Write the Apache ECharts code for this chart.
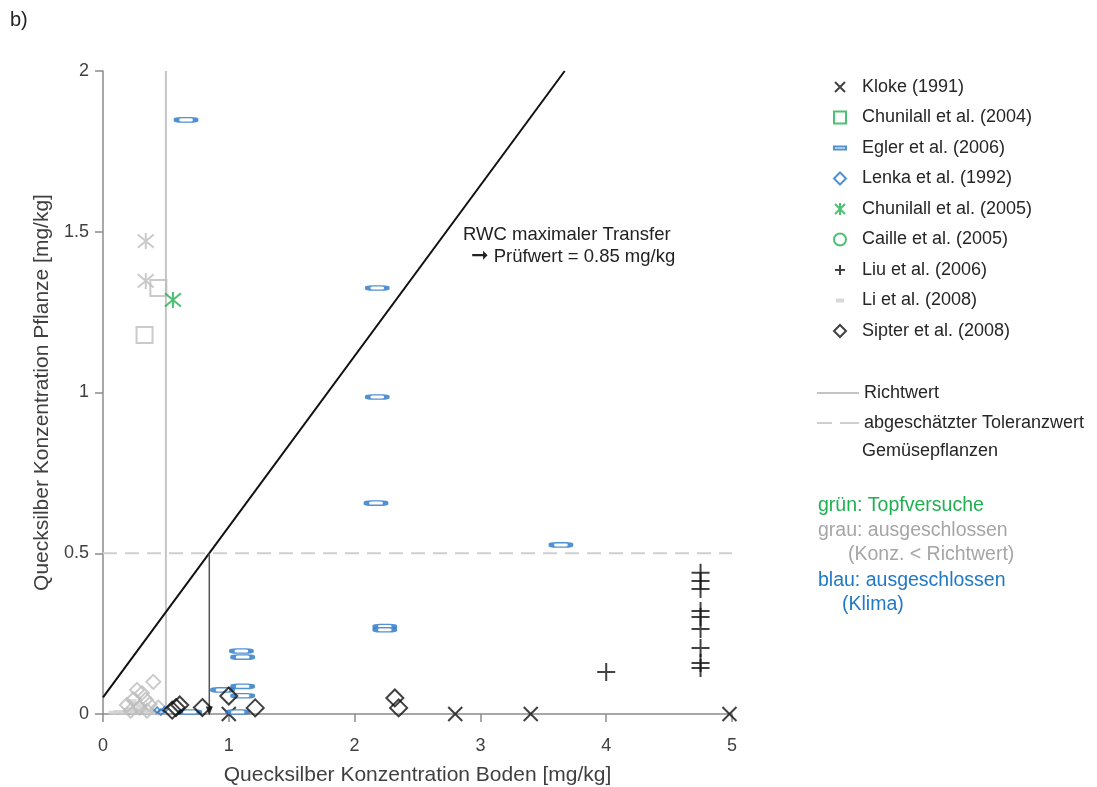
<!DOCTYPE html>
<html>
<head>
<meta charset="utf-8">
<script src="https://cdn.jsdelivr.net/npm/echarts@6/dist/echarts.min.js"></script>
<style>
html,body{margin:0;padding:0;background:#fff;}
#chart{width:1097px;height:787px;}
</style>
</head>
<body>
<div id="chart"></div>
<script>
// ---- data (x = Boden mg/kg, y = Pflanze mg/kg) ----
const kloke = [[1.0,0.0],[2.8,0.0],[3.4,0.0],[4.98,0.0]];
const chunilall2004 = [];
const chunilall2004Grey = [[0.44,1.325],[0.33,1.179]];
const egler = [[0.66,1.848],[2.18,1.325],[2.18,0.986],[2.17,0.656],[3.64,0.526],[2.24,0.272],[2.24,0.262],
  [1.10,0.196],[1.11,0.177],[0.95,0.075],[1.11,0.086],[1.11,0.057],[1.07,0.006],[0.69,0.006]];
const lenka = [[0.43,0.012],[0.46,0.006],[0.49,0.014]];
const lenkaGrey = [[0.40,0.10],[0.27,0.075],[0.31,0.065],[0.24,0.045],[0.34,0.045],[0.19,0.028],
  [0.37,0.03],[0.44,0.02],[0.29,0.02],[0.35,0.01],[0.22,0.01]];
const chunilall2005 = [[0.556,1.288]];
const chunilall2005Grey = [[0.34,1.471],[0.34,1.347]];
const caille = [];
const liu = [[4.75,0.439],[4.75,0.414],[4.75,0.389],[4.75,0.320],[4.75,0.302],[4.75,0.264],
  [4.75,0.205],[4.75,0.159],[4.75,0.143],[4.0,0.131]];
const li = [[0.08,0.004],[0.12,0.006],[0.16,0.004],[0.2,0.008],[0.22,0.015],[0.25,0.004],[0.28,0.01],
  [0.3,0.02],[0.32,0.005],[0.35,0.012],[0.38,0.004],[0.42,0.008],[0.27,0.03],[0.23,0.04]];
const sipter = [[0.55,0.012],[0.58,0.02],[0.61,0.028],[0.79,0.02],[1.0,0.056],[1.21,0.019],[2.32,0.05],[2.35,0.019]];
const richtwert = [[0.5,0],[0.5,2]];
const toleranzwert = [[0,0.5],[5,0.5]];
const rwcLine = [[0,0.052],[3.67,2]];
const pruefwertLine = [[0.845,0.5],[0.845,0]];
const legendNames = ['Kloke (1991)','Chunilall et al. (2004)','Egler et al. (2006)','Lenka et al. (1992)',
  'Chunilall et al. (2005)','Caille et al. (2005)','Liu et al. (2006)','Li et al. (2008)','Sipter et al. (2008)'];
const lineLegendNames = ['Richtwert','abgeschätzter Toleranzwert'];

const FONT = 'Liberation Sans, Arial, sans-serif';
const GREEN = '#1fb050', BLUE = '#2676c6', GREY = '#bdbdbd';
const P = {
  x: 'path://M0,0L10,10M10,0L0,10',
  ast: 'path://M0,0L10,10M10,0L0,10M5,-1L5,11',
  plus: 'path://M5,0L5,10M0,5L10,5',
  dia: 'path://M5,0L10,5L5,10L0,5Z'
};
// legend icons in a 34x14 box, content centred at x=17
const LI = {
  x: 'path://M0,0M34,14M12,2L22,12M22,2L12,12',
  sq: 'path://M0,0M34,14M11,1H23V13H11Z',
  egl: 'path://M0,0M34,14M11,5.5H23V8.5H11Z',
  dia: 'path://M0,0M34,14M17,1L23,7L17,13L11,7Z',
  ast: 'path://M0,0M34,14M12,2L22,12M22,2L12,12M17,1L17,13',
  circ: 'path://M0,0M34,14M23,7A6,6,0,1,1,11,7A6,6,0,1,1,23,7Z',
  plus: 'path://M0,0M34,14M17,2L17,12M12,7L22,7',
  li: 'path://M0,0M34,14M13,5H21V9H13Z',
  solid: 'path://M0,0M42,14M0,6H42V8H0Z',
  dashed: 'path://M0,0M42,14M0,6H15V8H0ZM23,6H42V8H23Z'
};
const T = 'rgba(0,0,0,0)';

const chart = echarts.init(document.getElementById('chart'), null, {renderer:'canvas'});
chart.setOption({
  animation:false,
  backgroundColor:'#fff',
  grid:{left:103,right:365,top:71,bottom:73,containLabel:false,outerBoundsMode:'none'},
  xAxis:{type:'value',min:0,max:5,interval:1,
    name:'Quecksilber Konzentration Boden [mg/kg]',nameLocation:'middle',nameGap:51,nameMoveOverlap:false,
    nameTextStyle:{fontFamily:FONT,fontSize:21,color:'#404040'},
    axisLine:{lineStyle:{color:'#8c8c8c',width:1.5}},
    axisTick:{show:true,length:8,lineStyle:{color:'#8c8c8c',width:1.5}},
    axisLabel:{fontFamily:FONT,fontSize:18,color:'#404040',margin:23},
    splitLine:{show:false}},
  yAxis:{type:'value',min:0,max:2,interval:0.5,
    name:'Quecksilber Konzentration Pflanze [mg/kg]',nameLocation:'middle',nameGap:50,nameMoveOverlap:false,
    nameTextStyle:{fontFamily:FONT,fontSize:21,color:'#404040'},
    axisLine:{show:true,lineStyle:{color:'#8c8c8c',width:1.5}},
    axisTick:{show:true,length:8,lineStyle:{color:'#8c8c8c',width:1.5}},
    axisLabel:{fontFamily:FONT,fontSize:18,color:'#404040',margin:14},
    splitLine:{show:false}},
  legend:[{
    orient:'vertical',left:817,top:73,itemWidth:34,itemHeight:14,itemGap:12.5,
    textStyle:{fontFamily:FONT,fontSize:18,color:'#262626'},
    data:[
      {name:legendNames[0],icon:LI.x},
      {name:legendNames[1],icon:LI.sq},
      {name:legendNames[2],icon:LI.egl},
      {name:legendNames[3],icon:LI.dia},
      {name:legendNames[4],icon:LI.ast},
      {name:legendNames[5],icon:LI.circ},
      {name:legendNames[6],icon:LI.plus},
      {name:legendNames[7],icon:LI.li},
      {name:legendNames[8],icon:LI.dia}
    ]
  },{
    orient:'vertical',left:812,top:379,itemWidth:42,itemHeight:14,itemGap:12,
    textStyle:{fontFamily:FONT,fontSize:18,color:'#262626'},
    data:[{name:lineLegendNames[0],icon:LI.solid},{name:lineLegendNames[1],icon:LI.dashed}]
  }],
  series:[
    {name:lineLegendNames[0],type:'line',data:richtwert,symbol:'none',z:1,
      lineStyle:{color:'#c4c4c4',width:2},itemStyle:{color:'#c4c4c4'}},
    {name:lineLegendNames[1],type:'line',data:toleranzwert,symbol:'none',z:1,
      lineStyle:{color:'#cfcfcf',width:2,type:[14,8]},itemStyle:{color:'#cfcfcf'}},
    {name:'RWC',type:'line',data:rwcLine,symbol:'none',z:2,lineStyle:{color:'#111',width:2}},
    {name:'Prüfwert',type:'line',z:2,lineStyle:{color:'#555',width:1.5},
      data:[{value:pruefwertLine[0],symbol:'none'},
            {value:pruefwertLine[1],symbol:'triangle',symbolRotate:180,symbolSize:[7,9],symbolOffset:[0,-3],itemStyle:{color:'#333'}}]},
    {name:'Li grau',type:'scatter',data:li,symbol:'rect',symbolSize:[9,4],itemStyle:{color:'#d0d0d0'},z:3},
    {name:legendNames[7],type:'scatter',data:[],symbol:'rect',symbolSize:[9,4],itemStyle:{color:'#d0d0d0'}},
    {name:'Lenka grau',type:'scatter',data:lenkaGrey,symbol:P.dia,symbolSize:14,z:3,
      itemStyle:{color:T,borderColor:GREY,borderWidth:2}},
    {name:'Chunilall 2004 grau',type:'scatter',data:chunilall2004Grey,symbol:'rect',symbolSize:16,z:3,
      itemStyle:{color:T,borderColor:GREY,borderWidth:2}},
    {name:'Chunilall 2005 grau',type:'scatter',data:chunilall2005Grey,symbol:P.ast,symbolSize:16,z:3,
      itemStyle:{color:T,borderColor:GREY,borderWidth:2}},
    {name:legendNames[0],type:'scatter',data:kloke,symbol:P.x,symbolSize:14,z:4,
      itemStyle:{color:T,borderColor:'#111',borderWidth:2}},
    {name:legendNames[1],type:'scatter',data:chunilall2004,symbol:'rect',symbolSize:14,z:4,
      itemStyle:{color:T,borderColor:GREEN,borderWidth:2}},
    {name:legendNames[2],type:'scatter',data:egler,symbol:'roundRect',symbolSize:[19,4.3],z:4,
      itemStyle:{color:'#fff',borderColor:BLUE,borderWidth:2.7}},
    {name:legendNames[3],type:'scatter',data:lenka,symbol:P.dia,symbolSize:6,z:4,
      itemStyle:{color:T,borderColor:BLUE,borderWidth:1.5}},
    {name:legendNames[4],type:'scatter',data:chunilall2005,symbol:P.ast,symbolSize:16,z:4,
      itemStyle:{color:T,borderColor:GREEN,borderWidth:2}},
    {name:legendNames[5],type:'scatter',data:caille,symbol:'emptyCircle',symbolSize:12,z:4,
      itemStyle:{color:T,borderColor:GREEN,borderWidth:2}},
    {name:legendNames[6],type:'scatter',data:liu,symbol:P.plus,symbolSize:18,z:4,
      itemStyle:{color:T,borderColor:'#111',borderWidth:2}},
    {name:legendNames[8],type:'scatter',data:sipter,symbol:P.dia,symbolSize:17,z:5,
      itemStyle:{color:T,borderColor:'#111',borderWidth:2}}
  ],
  graphic:[
    {type:'text',left:10,top:10,style:{text:'b)',font:'20px '+FONT,fill:'#222'}},
    {type:'text',left:463,top:225,style:{text:'RWC maximaler Transfer',font:'18.5px '+FONT,fill:'#222'}},
    {type:'text',left:471,top:246,style:{text:'{a|\u279E} Prüfwert = 0.85 mg/kg',font:'18.5px '+FONT,fill:'#222',
      rich:{a:{fontFamily:'DejaVu Sans',fontSize:21,fill:'#222'}}}},
    {type:'text',left:862,top:442,style:{text:'Gemüsepflanzen',font:'18px '+FONT,fill:'#262626'}},
    {type:'text',left:818,top:496,style:{text:'grün: Topfversuche',font:'19.5px '+FONT,fill:'#1fb050'}},
    {type:'text',left:818,top:521,style:{text:'grau: ausgeschlossen',font:'19.5px '+FONT,fill:'#a6a6a6'}},
    {type:'text',left:848,top:545,style:{text:'(Konz. < Richtwert)',font:'19.5px '+FONT,fill:'#a6a6a6'}},
    {type:'text',left:818,top:571,style:{text:'blau: ausgeschlossen',font:'19.5px '+FONT,fill:'#1f78c8'}},
    {type:'text',left:842,top:595,style:{text:'(Klima)',font:'19.5px '+FONT,fill:'#1f78c8'}}
  ]
});
</script>
</body>
</html>
